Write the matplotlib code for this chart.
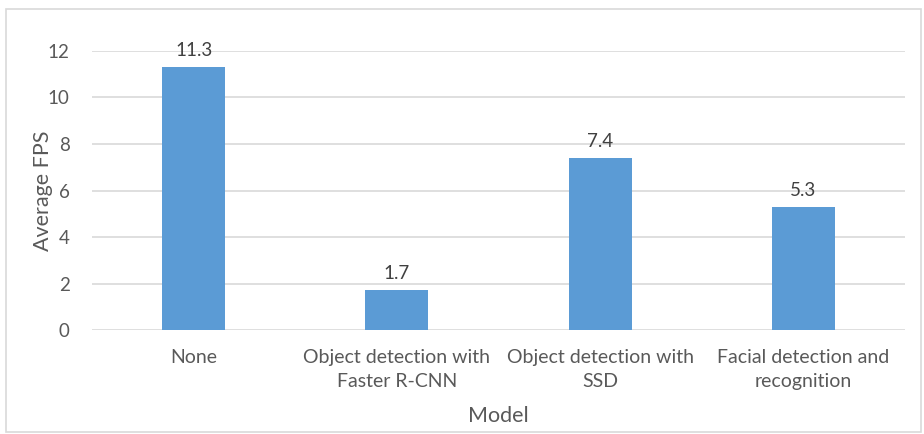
import matplotlib.pyplot as plt
from matplotlib.patches import Rectangle

# Chart data
models = ['None', 'Object detection with\nFaster R-CNN', 'Object detection with\nSSD',
          'Facial detection and\nrecognition']
avg_fps = [11.3, 1.7, 7.4, 5.3]
y_ticks = [0, 2, 4, 6, 8, 10, 12]

text_color = '#595959'
bar_color = '#5b9bd5'
grid_color = '#d9d9d9'

plt.rcParams['font.family'] = ['Lato', 'DejaVu Sans']

fig = plt.figure(figsize=(9.24, 4.34), dpi=100)
ax = fig.add_axes([0.0996, 0.2396, 0.88, 0.6429])

x = range(len(models))
bars = ax.bar(x, avg_fps, width=0.31, color=bar_color, zorder=3)

for rect, val in zip(bars, avg_fps):
    ax.text(rect.get_x() + rect.get_width() / 2, val + 0.35, f'{val}',
            ha='center', va='bottom', fontsize=13.5, color='#404040')

ax.set_xlim(-0.5, len(models) - 0.5)
ax.set_ylim(0, 12)
ax.set_yticks(y_ticks)
ax.set_xticks(list(x))
ax.set_xticklabels([])
ax.tick_params(axis='y', labelsize=13.5, labelcolor=text_color, length=0, pad=16)
ax.tick_params(axis='x', length=0)

# category labels, each line centred on its own
for i, name in enumerate(models):
    for j, line in enumerate(name.split('\n')):
        ax.annotate(line, xy=(i, 0), xycoords=('data', 'axes fraction'),
                    xytext=(0, -20 - 17 * j), textcoords='offset points',
                    ha='center', va='center', fontsize=14, color=text_color)

ax.grid(axis='y', color=grid_color, linewidth=1.2, zorder=0)
for side in ['top', 'right', 'left', 'bottom']:
    ax.spines[side].set_visible(False)

ax.set_ylabel('Average FPS', fontsize=15.5, color=text_color, labelpad=-4)
ax.annotate('Model', xy=(0.5, 0), xycoords='axes fraction',
            xytext=(0, -62), textcoords='offset points',
            ha='center', va='center', fontsize=15.5, color=text_color)

# light outer border
fig.patches.append(Rectangle((0.007, 0.005), 0.99, 0.975, transform=fig.transFigure,
                             fill=False, edgecolor='#d9d9d9', linewidth=1.2))

fig.savefig('out.png', dpi=100)
